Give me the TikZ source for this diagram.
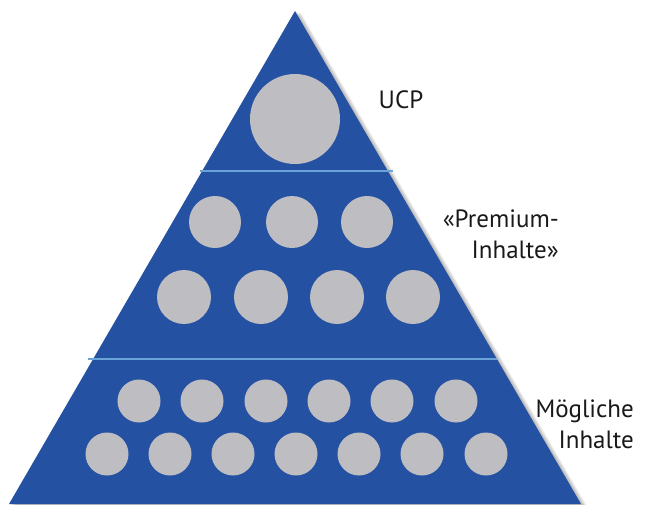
\documentclass[tikz,border=0pt]{standalone}
\usepackage{fontspec}
\setmainfont{PT Sans}
\usetikzlibrary{calc}
\begin{document}
\definecolor{pyrblue}{HTML}{2551A3}
\definecolor{sepblue}{HTML}{6AA3D8}
\definecolor{dotgray}{HTML}{BEBEC2}
\begin{tikzpicture}[x=1pt,y=-1pt,
  dot/.style={circle,fill=dotgray,draw=none,inner sep=0pt,minimum size=#1},
  sep/.style={draw=sepblue,line width=1.6pt},
  lbl/.style={font=\fontsize{25}{31}\selectfont,text=black!90,align=right,inner sep=0pt}]
\useasboundingbox (0,0) rectangle (646,504);
\clip (0,0) rectangle (646,504);
% shadow
\foreach \i in {1,...,9}{
  \fill[black,opacity=0.035] ($(295,11)+(\i*0.7,\i*0.25)$) -- ++(-286,493) -- ++(572,0) -- cycle;
}
% pyramid
\fill[pyrblue] (295,11) -- (9,504) -- (581,504) -- cycle;
% separators
\coordinate (s1l) at (200,171); \coordinate (s1r) at (393,171);
\coordinate (s2l) at (88,359); \coordinate (s2r) at (497,359);
\draw[sep] (s1l) -- (s1r);
\draw[sep] (s2l) -- (s2r);
% UCP circle
\node[dot=90pt] (ucp) at (295,119) {};
% premium rows
\foreach \x [count=\k] in {215,292,367}{ \node[dot=52pt] (pa\k) at (\x,222) {}; }
\foreach \x [count=\k] in {184,261,337,413}{ \node[dot=54pt] (pb\k) at (\x,297) {}; }
% possible rows
\foreach \x [count=\k] in {139,202,266,329,392,456}{ \node[dot=43pt] (ma\k) at (\x,401) {}; }
\foreach \x [count=\k] in {107,170,233,296,359,422,486}{ \node[dot=43pt] (mb\k) at (\x,454) {}; }
% labels
\node[lbl,anchor=center] (tucp) at (401,100) {UCP};
\node[lbl,anchor=east] (tprem) at (559,234) {«Premium-\\Inhalte»};
\node[lbl,anchor=east] (tmog) at (634,424) {Mögliche\\Inhalte};
\end{tikzpicture}
\end{document}
